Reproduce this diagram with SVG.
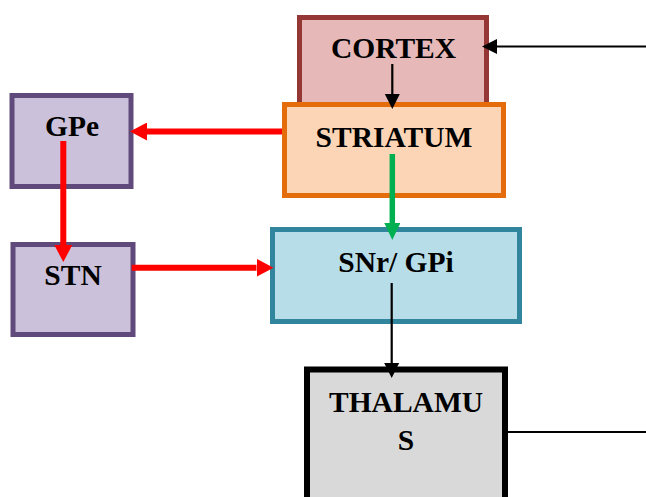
<svg xmlns="http://www.w3.org/2000/svg" width="646" height="497" viewBox="0 0 646 497">
<style>
.lbl{font-family:"Liberation Serif","Times New Roman",serif;font-weight:bold;font-size:29.5px;fill:#000;text-anchor:middle}
.box{stroke-width:5}
.blk{stroke:#000;stroke-width:2.2;fill:none}
.red{stroke:#ff0000;stroke-width:6;fill:none}
.grn{stroke:#00b050;stroke-width:5.5;fill:none}
</style>
<defs>
<marker id="ab" markerUnits="userSpaceOnUse" viewBox="0 -8 15 16" refX="0" refY="0" markerWidth="15" markerHeight="16" orient="auto"><path d="M0,-7.5 L15,0 L0,7.5 Z" fill="#000"/></marker>
<marker id="ar" markerUnits="userSpaceOnUse" viewBox="0 -9 17 18" refX="0" refY="0" markerWidth="17" markerHeight="18" orient="auto"><path d="M0,-9 L17,0 L0,9 Z" fill="#ff0000"/></marker>
<marker id="ag" markerUnits="userSpaceOnUse" viewBox="0 -8 17 16" refX="0" refY="0" markerWidth="17" markerHeight="16" orient="auto"><path d="M0,-8 L17,0 L0,8 Z" fill="#00b050"/></marker>
</defs>
<g id="cortex">
<rect class="box" x="299.5" y="17.5" width="187" height="100" fill="#e6b8b7" stroke="#953735"/>
<text class="lbl" x="393.5" y="58">CORTEX</text>
</g>
<g id="striatum">
<rect class="box" x="284.5" y="104.5" width="219" height="91" fill="#fbd5b5" stroke="#e46c0a"/>
<text class="lbl" x="394" y="147">STRIATUM</text>
</g>
<g id="gpe">
<rect class="box" x="12" y="95.5" width="119" height="91" fill="#ccc1da" stroke="#604a7b"/>
<text class="lbl" x="72" y="136">GPe</text>
</g>
<g id="stn">
<rect class="box" x="13" y="244.5" width="120" height="90" fill="#ccc1da" stroke="#604a7b"/>
<text class="lbl" x="73" y="285">STN</text>
</g>
<g id="snr-gpi">
<rect class="box" x="272.5" y="229.5" width="247" height="92" fill="#b7dee8" stroke="#31859c"/>
<text class="lbl" x="396" y="272">SNr/ GPi</text>
</g>
<g id="thalamus">
<rect x="307" y="369.5" width="198" height="140" fill="#d9d9d9" stroke="#000" stroke-width="6"/>
<text class="lbl" x="406" y="412">THALAMU</text>
<text class="lbl" x="406" y="450">S</text>
</g>
<g id="connectors">
<path class="blk" d="M646,46.5 H497" marker-end="url(#ab)"/>
<path class="blk" d="M392.3,64 V94" marker-end="url(#ab)"/>
<path class="blk" d="M391.7,283 V363" marker-end="url(#ab)"/>
<path class="blk" d="M508,432 H646"/>
<path class="red" d="M282,131.5 H147" marker-end="url(#ar)"/>
<path class="red" d="M63.3,141 V245" marker-end="url(#ar)"/>
<path class="red" d="M131.7,267.7 H256.5" marker-end="url(#ar)"/>
<path class="grn" d="M392.3,154 V223" marker-end="url(#ag)"/>
</g>
</svg>
